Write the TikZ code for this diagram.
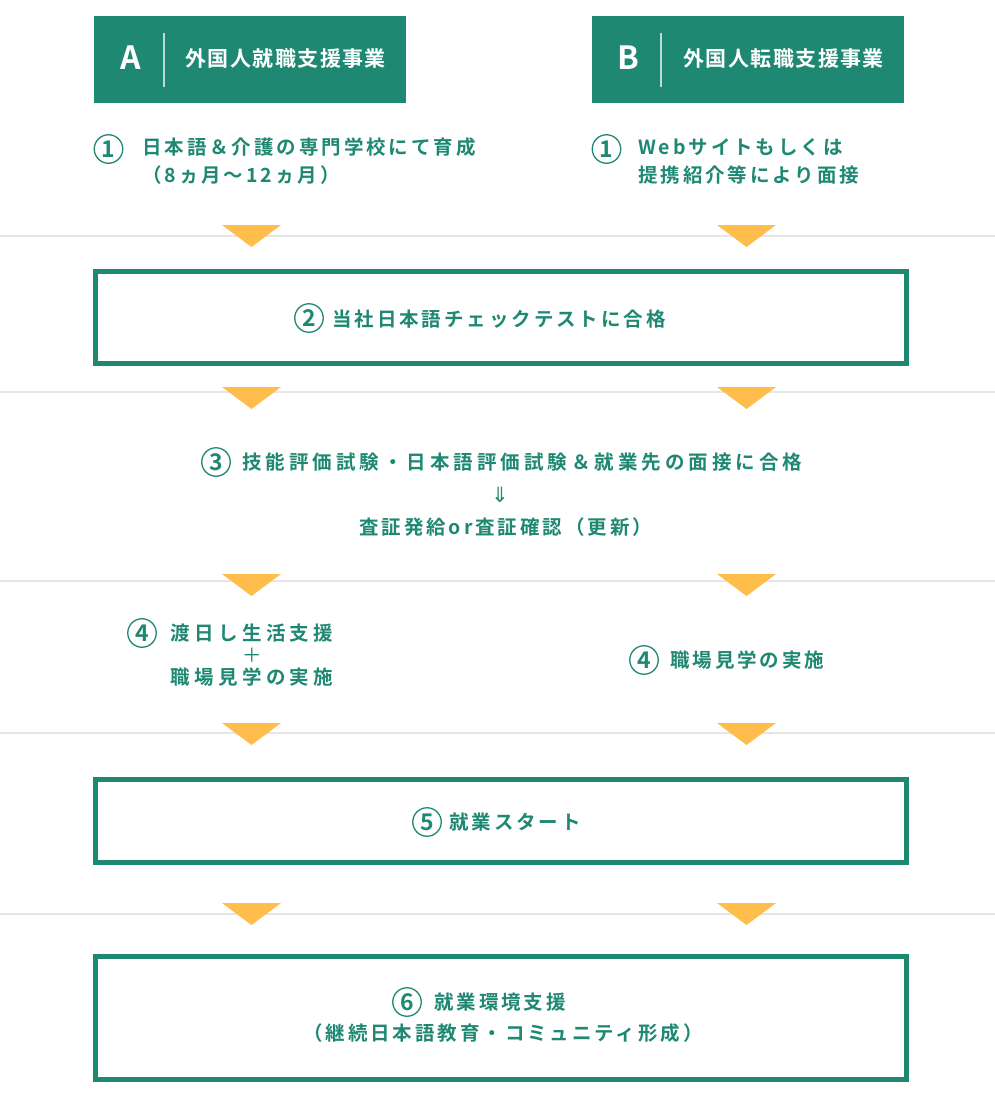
\documentclass[tikz,border=0pt]{standalone}
\usepackage{fontspec}
\setmainfont{Noto Sans CJK JP}
\newfontfamily\jpb{Noto Sans CJK JP Bold}[LetterSpace=15]
\newfontfamily\jpbw{Noto Sans CJK JP Bold}[LetterSpace=20.5]
\newfontfamily\jpbx{Noto Sans CJK JP Bold}[LetterSpace=22]
\newfontfamily\jph{Noto Sans CJK JP Bold}[LetterSpace=7]
\newfontfamily\jpn{Noto Sans CJK JP Bold}
\newfontfamily\jpr{Noto Sans CJK JP}
\newfontfamily\dvs{DejaVu Sans}
\definecolor{verde}{HTML}{1E8873}
\definecolor{arancio}{HTML}{FFBE4C}
\definecolor{grigio}{HTML}{E6E6E6}
\begin{document}
\begin{tikzpicture}[x=1pt,y=-1pt,
    testo/.style={inner sep=0pt,text=verde,align=left,font=\jpb\fontsize{19.5}{28}\selectfont},
    num/.style={circle,draw=verde,line width=1.3pt,minimum size=28.5pt,inner sep=0pt,
        text=verde,font=\jpn\fontsize{23}{23}\selectfont},
    testata/.style={fill=verde,minimum width=312pt,minimum height=87pt,inner sep=0pt},
    titolo/.style={inner sep=0pt,text=white,font=\jph\fontsize{21}{21}\selectfont},
    lettera/.style={inner sep=0pt,text=white,font=\jpn\fontsize{32}{32}\selectfont},
    riquadro/.style={draw=verde,line width=5pt,minimum width=811pt,inner sep=0pt},
    freccia/.style={fill=arancio},
    riga/.style={draw=grigio,line width=2pt}]
    \useasboundingbox[fill=white] (0,0) rectangle (995,1100);
    % righe di separazione e frecce
    \foreach \y in {236,392,581,733,914}
        \draw[riga] (0,\y) -- (995,\y);
    \foreach \t in {225,387,574,723,903}
        \foreach \x in {251.5,746.5}
            \fill[freccia] (\x-29.5,\t) -- (\x+29.5,\t) -- (\x,\t+22) -- cycle;
    % testate A e B
    \node[testata] (hA) at (250,59.5) {};
    \node[lettera] (lA) at (130.5,58) {A};
    \draw[white,opacity=0.7,line width=1.2pt] (164,33) -- (164,87);
    \node[titolo,anchor=west] (tA) at (185,59) {外国人就職支援事業};
    \node[testata] (hB) at (748,59.5) {};
    \node[lettera] (lB) at (628.5,58) {B};
    \draw[white,opacity=0.7,line width=1.2pt] (661,33) -- (661,87);
    \node[titolo,anchor=west] (tB) at (683,59) {外国人転職支援事業};
    % passo 1
    \node[num] (c1a) at (108.5,149) {1};
    \node[testo,anchor=west] (s1a) at (142,161) {日本語＆介護の専門学校にて育成\\（8ヵ月〜12ヵ月）};
    \node[num] (c1b) at (606.5,149) {1};
    \node[testo,anchor=west] (s1b) at (638,161) {Webサイトもしくは\\提携紹介等により面接};
    % passo 2
    \node[riquadro,minimum height=92pt] (b2) at (501,317.5) {};
    \node[num] (c2) at (309,318) {2};
    \node[testo,anchor=west] (s2) at (332,319) {当社日本語チェックテストに合格};
    % passo 3
    \node[num] (c3) at (216,462) {3};
    \node[testo,anchor=west,font=\jpbw\fontsize{19.5}{28}\selectfont] (s3) at (242,462)
        {技能評価試験・日本語評価試験＆就業先の面接に合格};
    \node[inner sep=0pt,text=verde,font=\dvs\fontsize{21}{21}\selectfont] (d3) at (500,495) {⇓};
    \node[testo,anchor=west] (s3b) at (359,527) {査証発給or査証確認（更新）};
    % passo 4
    \node[num] (c4a) at (142,633) {4};
    \node[testo,align=center,font=\jpbx\fontsize{19.5}{22}\selectfont] (s4a) at (252,655)
        {渡日し生活支援\\{\jpr ＋}\\職場見学の実施};
    \node[num] (c4b) at (644,660) {4};
    \node[testo,anchor=west] (s4b) at (670,660) {職場見学の実施};
    % passo 5
    \node[riquadro,minimum height=83pt] (b5) at (501,821) {};
    \node[num] (c5) at (427,822) {5};
    \node[testo,anchor=west] (s5) at (449,822) {就業スタート};
    % passo 6
    \node[riquadro,minimum height=123pt] (b6) at (501,1018) {};
    \node[num] (c6) at (407,1002) {6};
    \node[testo,anchor=west] (s6) at (434,1002) {就業環境支援};
    \node[testo] (s6b) at (503,1033) {（継続日本語教育・コミュニティ形成）};
\end{tikzpicture}
\end{document}
